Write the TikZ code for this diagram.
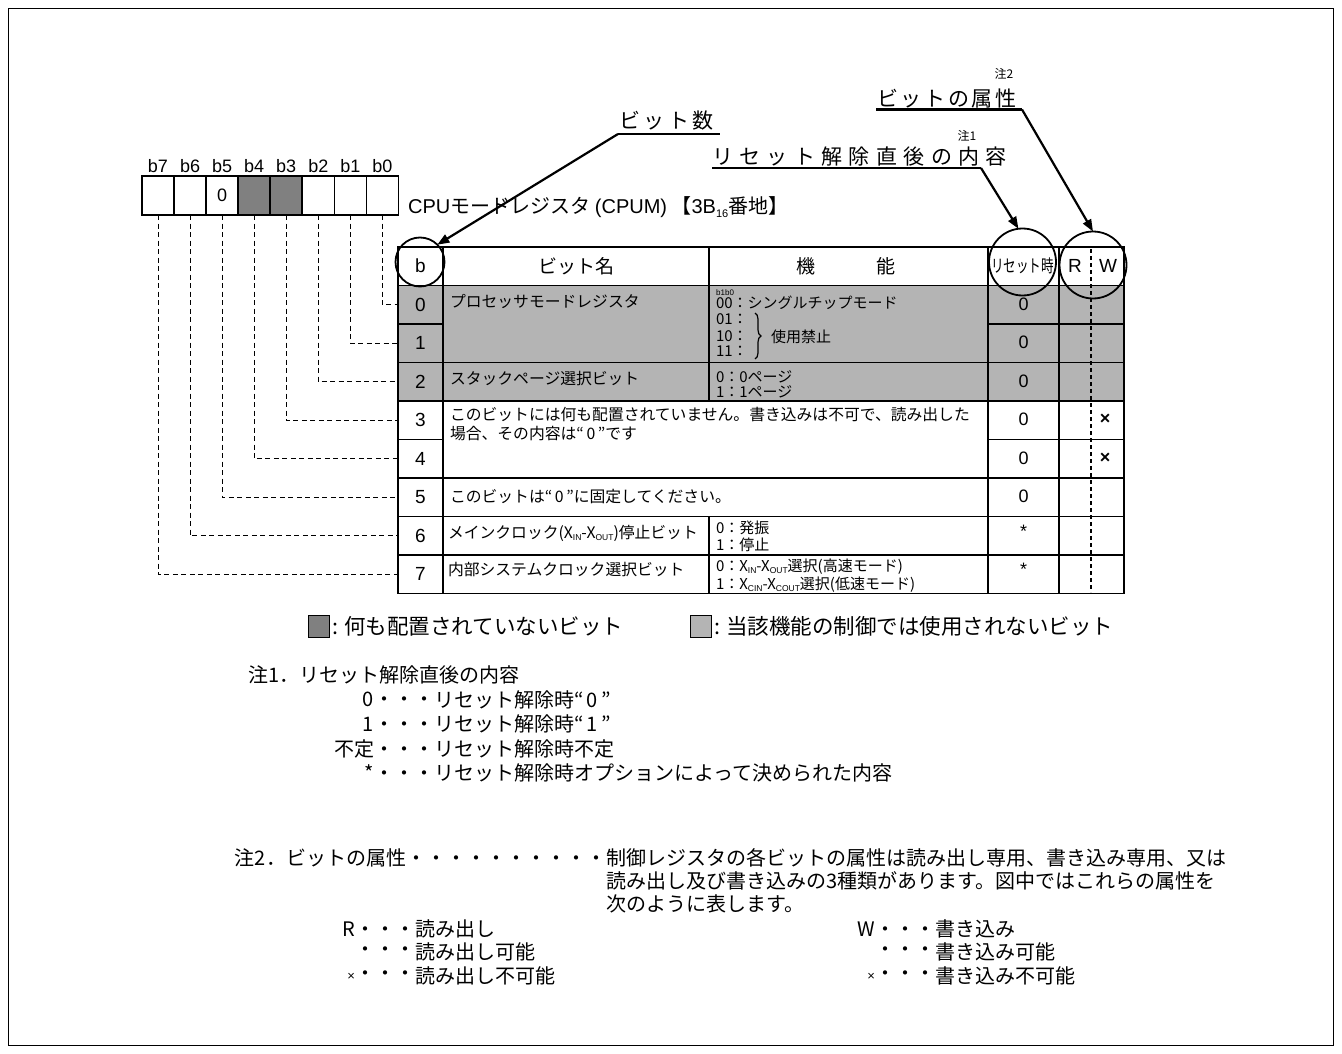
\documentclass[tikz,border=0pt]{standalone}
\usepackage{fontspec}
\usepackage{graphicx}
\setmainfont{Noto Sans CJK JP}
\newfontfamily\lat{Liberation Sans}
\usetikzlibrary{arrows.meta,decorations.pathreplacing}
\newcommand\fsz[1]{\fontsize{#1pt}{#1pt}\selectfont}
\newcommand\xsub[1]{\raisebox{-0.2ex}{\fontsize{8.5pt}{8.5pt}\selectfont\lat #1}}
\definecolor{darkbit}{HTML}{808080}
\definecolor{lightbit}{HTML}{B4B4B4}
\begin{document}
\begin{tikzpicture}[x=1pt,y=-1pt,
  bodytxt/.style={inner sep=0pt, outer sep=0pt, anchor=west, font=\fsz{15.8}},
  functxt/.style={inner sep=0pt, outer sep=0pt, anchor=west, font=\fsz{15}},
  headtxt/.style={inner sep=0pt, outer sep=0pt, font=\fsz{19}},
  numcell/.style={inner sep=0pt, outer sep=0pt, minimum width=45pt, minimum height=38.5pt, font=\fsz{19}\lat},
  rescell/.style={inner sep=0pt, outer sep=0pt, font=\fsz{18}\lat},
  bitbox/.style={draw, line width=1.5pt, minimum width=32.05pt, minimum height=39pt, inner sep=0pt, outer sep=0pt},
  bitlbl/.style={inner sep=0pt, font=\fsz{18}\lat},
  leader/.style={line width=0.9pt, dash pattern=on 5pt off 3.5pt},
  rwdash/.style={line width=1.3pt, dash pattern=on 4pt off 3pt},
  gridln/.style={line width=1.8pt},
  ring/.style={circle, draw, line width=1.8pt, inner sep=0pt, outer sep=0pt},
  pointer/.style={line width=2.2pt, -{Triangle[length=12pt,width=9pt]}},
  uline/.style={line width=2.2pt},
  toplbl/.style={inner sep=0pt, outer sep=0pt, anchor=west, font=\fsz{21}},
  smalllbl/.style={inner sep=0pt, outer sep=0pt, font=\fsz{12}},
  notetxt/.style={inner sep=0pt, outer sep=0pt, font=\fsz{20}},
  legtxt/.style={inner sep=0pt, outer sep=0pt, anchor=west, font=\fsz{21.5}},
  legbox/.style={draw, line width=1pt, minimum width=21pt, minimum height=22pt, inner sep=0pt, outer sep=0pt},
]
\fill[white] (0,0) rectangle (1342,1054);
\useasboundingbox (0,0) rectangle (1342,1054);
\draw[line width=1.5pt] (8.5,8.5) rectangle (1333.5,1045.5);

% ---- bit boxes ----
\node[bitbox] (bx7) at (158.0,195.5) {};
\node[bitbox] (bx6) at (190.1,195.5) {};
\node[bitbox, font=\fsz{18}\lat] (bx5) at (222.1,195.5) {0};
\node[bitbox, fill=darkbit] (bx4) at (254.2,195.5) {};
\node[bitbox, fill=darkbit] (bx3) at (286.2,195.5) {};
\node[bitbox] (bx2) at (318.3,195.5) {};
\node[bitbox] (bx1) at (350.3,195.5) {};
\node[bitbox] (bx0) at (382.4,195.5) {};
\node[bitlbl] (bl7) at (158.0,166) {b7};
\node[bitlbl] (bl6) at (190.1,166) {b6};
\node[bitlbl] (bl5) at (222.1,166) {b5};
\node[bitlbl] (bl4) at (254.2,166) {b4};
\node[bitlbl] (bl3) at (286.2,166) {b3};
\node[bitlbl] (bl2) at (318.3,166) {b2};
\node[bitlbl] (bl1) at (350.3,166) {b1};
\node[bitlbl] (bl0) at (382.4,166) {b0};

\node[inner sep=0pt, anchor=west, font=\fsz{20}] (title) at (408,207)
  {{\lat CPU}モードレジスタ {\lat (CPUM)} 【{\lat 3B}\raisebox{-0.35ex}{\fsz{11}\lat 16}番地】};

% ---- table background and grid ----
\fill[lightbit] (398,285.5) rectangle (1124,401);
\draw[gridln] (398,285.5) -- (1124,285.5);
\draw[gridln] (398,362.5) -- (1124,362.5);
\draw[gridln] (398,401) -- (1124,401);
\draw[gridln] (398,478) -- (1124,478);
\draw[gridln] (398,516.5) -- (1124,516.5);
\draw[gridln] (398,555) -- (1124,555);
\draw[gridln] (398,324) -- (443,324) (988,324) -- (1124,324);
\draw[gridln] (398,439.5) -- (443,439.5) (988,439.5) -- (1124,439.5);
\draw[gridln] (443,247) -- (443,593.5);
\draw[gridln] (988,247) -- (988,593.5);
\draw[gridln] (1059,247) -- (1059,593.5);
\draw[gridln] (709,247) -- (709,401) (709,516.5) -- (709,593.5);
\draw[rwdash] (1091,249) -- (1091,592);
\draw[gridln] (398,247) rectangle (1124,593.5);

% ---- header ----
\node[headtxt, font=\fsz{19}\lat] (hb) at (420.5,266) {b};
\node[headtxt] (hname) at (576,266) {ビット名};
\node[headtxt] (hfunc) at (846,266) {機\hspace{61pt}能};
\node[headtxt, font=\fsz{17.5}] (hres) at (1022.5,266) {\scalebox{0.72}[1]{リセット時}};
\node[headtxt, font=\fsz{19}\lat] (hR) at (1075,266) {R};
\node[headtxt, font=\fsz{19}\lat] (hW) at (1108,266) {W};

% ---- bit number cells ----
\node[numcell] (n0) at (420.5,304.75) {0};
\node[numcell] (n1) at (420.5,343.25) {1};
\node[numcell] (n2) at (420.5,381.75) {2};
\node[numcell] (n3) at (420.5,420.25) {3};
\node[numcell] (n4) at (420.5,458.75) {4};
\node[numcell] (n5) at (420.5,497.25) {5};
\node[numcell] (n6) at (420.5,535.75) {6};
\node[numcell] (n7) at (420.5,574.25) {7};

% ---- reset cells ----
\node[rescell] (rs0) at (1023.5,304) {0};
\node[rescell] (rs1) at (1023.5,342) {0};
\node[rescell] (rs2) at (1023.5,381) {0};
\node[rescell] (rs3) at (1023.5,419.5) {0};
\node[rescell] (rs4) at (1023.5,458) {0};
\node[rescell] (rs5) at (1023.5,496.5) {0};
\node[rescell] (rs6) at (1023.5,531) {*};
\node[rescell] (rs7) at (1023.5,569.5) {*};
\node[rescell, font=\fsz{18}\lat\bfseries] (w3) at (1105,419.5) {×};
\node[rescell, font=\fsz{18}\lat\bfseries] (w4) at (1105,458) {×};

% ---- names and functions ----
\node[bodytxt] (nm0) at (450,301.5) {プロセッサモードレジスタ};
\node[inner sep=0pt, anchor=west, font=\fsz{8}\lat] (f0t) at (716,292.5) {b1b0};
\node[functxt] (f0a) at (716,302.5) {00：シングルチップモード};
\node[functxt] (f0b) at (716,319.5) {01：};
\node[functxt] (f0c) at (716,336) {10：};
\node[functxt] (f0d) at (716,351.5) {11：};
\draw[line width=1.2pt, decorate, decoration={brace, amplitude=6pt}] (755,313) -- (755,359);
\node[functxt] (f0e) at (771,336.5) {使用禁止};

\node[bodytxt] (nm2) at (450,378.5) {スタックページ選択ビット};
\node[functxt] (f2a) at (716,377) {0：0ページ};
\node[functxt] (f2b) at (716,391.5) {1：1ページ};

\node[bodytxt] (nm3a) at (450,415) {このビットには何も配置されていません。書き込みは不可で、読み出した};
\node[bodytxt] (nm3b) at (450,433.5) {場合、その内容は“\,0\,”です};

\node[bodytxt] (nm5) at (450,497) {このビットは“\,0\,”に固定してください。};

\node[bodytxt] (nm6) at (448,533.5) {メインクロック(X\xsub{IN}-X\xsub{OUT})停止ビット};
\node[functxt] (f6a) at (716,528) {0：発振};
\node[functxt] (f6b) at (716,545) {1：停止};

\node[bodytxt] (nm7) at (448,570) {内部システムクロック選択ビット};
\node[functxt] (f7a) at (716,567) {0：X\xsub{IN}-X\xsub{OUT}選択(高速モード)};
\node[functxt] (f7b) at (716,585) {1：X\xsub{CIN}-X\xsub{COUT}選択(低速モード)};

% ---- leaders ----
\draw[leader] (bx0.south) |- (n0.west);
\draw[leader] (bx1.south) |- (n1.west);
\draw[leader] (bx2.south) |- (n2.west);
\draw[leader] (bx3.south) |- (n3.west);
\draw[leader] (bx4.south) |- (n4.west);
\draw[leader] (bx5.south) |- (n5.west);
\draw[leader] (bx6.south) |- (n6.west);
\draw[leader] (bx7.south) |- (n7.west);

% ---- circles ----
\node[ring, minimum size=49pt] (cirb) at (420,262) {};
\node[ring, minimum size=67pt] (cirr) at (1022.5,262) {};
\node[ring, minimum size=67pt] (cirw) at (1093,265) {};

% ---- callout labels ----
\node[toplbl] (tbit) at (619,121) {ビ\kern3.6ptッ\kern3.6ptト\kern3.6pt数};
\coordinate (ubA) at (618,134);
\coordinate (ubB) at (720,134);
\draw[uline] (ubA) -- (ubB);
\draw[pointer] (ubA) -- (cirb.north east);

\node[smalllbl] (note1s) at (967,136) {注1};
\node[toplbl] (treset) at (712,156.5) {リ\kern6.4ptセ\kern6.4ptッ\kern6.4ptト\kern6.4pt解\kern6.4pt除\kern6.4pt直\kern6.4pt後\kern6.4ptの\kern6.4pt内\kern6.4pt容};
\coordinate (urA) at (712,168);
\coordinate (urB) at (981,168);
\draw[uline] (urA) -- (urB);
\draw[pointer] (urB) -- (cirr.97);

\node[smalllbl] (note2s) at (1004,74) {注2};
\node[toplbl] (tattr) at (877,98.5) {ビ\kern2.7ptッ\kern2.7ptト\kern2.7ptの\kern2.7pt属\kern2.7pt性};
\coordinate (uaA) at (876,109.5);
\coordinate (uaB) at (1022,109.5);
\draw[uline] (uaA) -- (uaB);
\draw[pointer] (uaB) -- (cirw.north);

% ---- legend ----
\node[legbox, fill=darkbit] (lg1) at (319,626) {};
\node[legtxt] (lg1t) at (332,626) {: 何も配置されていないビット};
\node[legbox, fill=lightbit] (lg2) at (701,626) {};
\node[legtxt] (lg2t) at (714,626) {: 当該機能の制御では使用されないビット};

% ---- note 1 ----
\node[notetxt, anchor=west] (n1h) at (248,675) {注1．リセット解除直後の内容};
\node[notetxt, anchor=east] (n1ap) at (434,699.5) {0・・・};
\node[notetxt, anchor=west] (n1a) at (434,699.5) {リセット解除時“\,0\,”};
\node[notetxt, anchor=east] (n1bp) at (434,724) {1・・・};
\node[notetxt, anchor=west] (n1b) at (434,724) {リセット解除時“\,1\,”};
\node[notetxt, anchor=east] (n1cp) at (434,748.5) {不定・・・};
\node[notetxt, anchor=west] (n1c) at (434,748.5) {リセット解除時不定};
\node[notetxt, anchor=east] (n1dp) at (434,773) {*・・・};
\node[notetxt, anchor=west] (n1d) at (434,773) {リセット解除時オプションによって決められた内容};

% ---- note 2 ----
\node[notetxt, anchor=east] (n2a) at (606,858) {注2．ビットの属性・・・・・・・・・・};
\node[notetxt, anchor=west] (n2b) at (606,858) {制御レジスタの各ビットの属性は読み出し専用、書き込み専用、又は};
\node[notetxt, anchor=west] (n2c) at (606,881) {読み出し及び書き込みの3種類があります。図中ではこれらの属性を};
\node[notetxt, anchor=west] (n2d) at (606,904) {次のように表します。};

\node[notetxt, anchor=east] (rap) at (415,929) {R・・・};
\node[notetxt, anchor=west] (ra) at (415,929) {読み出し};
\node[notetxt, anchor=east] (rbp) at (415,952) {・・・};
\node[notetxt, anchor=west] (rb) at (415,952) {読み出し可能};
\node[notetxt, anchor=east] (rcp) at (415,976) {{\lat\fsz{13}×}・・・};
\node[notetxt, anchor=west] (rc) at (415,976) {読み出し不可能};

\node[notetxt, anchor=east] (wap) at (935,929) {W・・・};
\node[notetxt, anchor=west] (wa) at (935,929) {書き込み};
\node[notetxt, anchor=east] (wbp) at (935,952) {・・・};
\node[notetxt, anchor=west] (wb) at (935,952) {書き込み可能};
\node[notetxt, anchor=east] (wcp) at (935,976) {{\lat\fsz{13}×}・・・};
\node[notetxt, anchor=west] (wc) at (935,976) {書き込み不可能};
\end{tikzpicture}
\end{document}
